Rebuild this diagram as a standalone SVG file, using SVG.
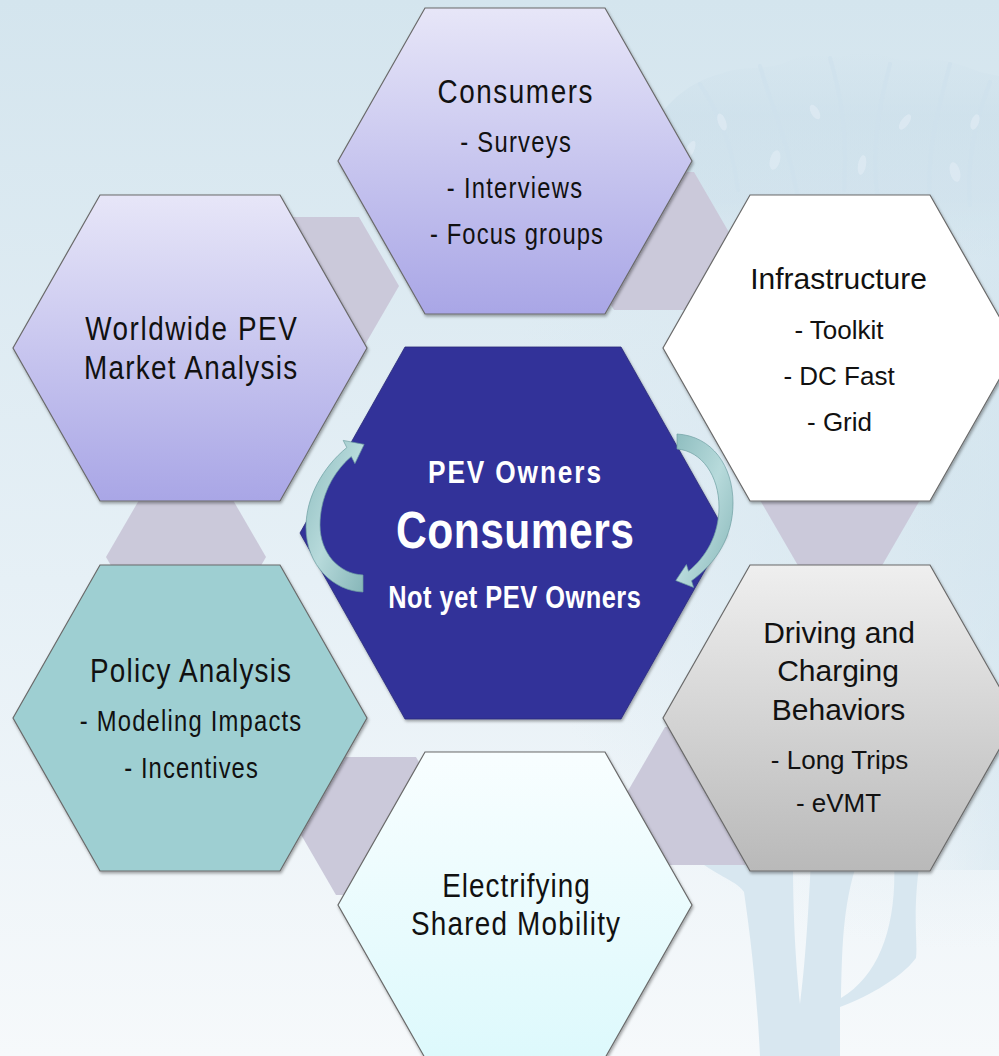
<svg xmlns="http://www.w3.org/2000/svg" width="999" height="1056" viewBox="0 0 999 1056">
  <defs>
    <linearGradient id="bg" x1="0" y1="0" x2="0" y2="1">
      <stop offset="0" stop-color="#d4e5ee"/>
      <stop offset="0.55" stop-color="#e6f0f6"/>
      <stop offset="1" stop-color="#f6f9fb"/>
    </linearGradient>
    <radialGradient id="bgRight" cx="0.95" cy="0.45" r="0.45">
      <stop offset="0" stop-color="#d6e6ef" stop-opacity="0.9"/>
      <stop offset="1" stop-color="#d6e6ef" stop-opacity="0"/>
    </radialGradient>
    <linearGradient id="canopy" x1="0" y1="0" x2="0" y2="1">
      <stop offset="0" stop-color="#c9dde9" stop-opacity="0"/>
      <stop offset="0.3" stop-color="#c9dde9" stop-opacity="0.55"/>
      <stop offset="0.7" stop-color="#c9dde9" stop-opacity="0.45"/>
      <stop offset="1" stop-color="#c9dde9" stop-opacity="0"/>
    </linearGradient>
    <linearGradient id="edgeTint" x1="0" y1="0" x2="1" y2="0">
      <stop offset="0" stop-color="#d2e4ee" stop-opacity="0"/>
      <stop offset="1" stop-color="#d2e4ee" stop-opacity="0.45"/>
    </linearGradient>
    <linearGradient id="lavender" x1="0" y1="0" x2="0" y2="1">
      <stop offset="0" stop-color="#e7e6f8"/>
      <stop offset="1" stop-color="#a9a6e6"/>
    </linearGradient>
    <linearGradient id="silver" x1="0" y1="0" x2="0" y2="1">
      <stop offset="0" stop-color="#efefef"/>
      <stop offset="1" stop-color="#b9b9b9"/>
    </linearGradient>
    <linearGradient id="ice" x1="0" y1="0" x2="0" y2="1">
      <stop offset="0" stop-color="#f8feff"/>
      <stop offset="1" stop-color="#ddf9fc"/>
    </linearGradient>
    <linearGradient id="arrowFill" x1="0" y1="0" x2="1" y2="1">
      <stop offset="0" stop-color="#8ebdbf"/>
      <stop offset="0.5" stop-color="#b7dadb"/>
      <stop offset="1" stop-color="#86b6b8"/>
    </linearGradient>
    <filter id="shadow" x="-10%" y="-10%" width="120%" height="125%">
      <feDropShadow dx="1" dy="2" stdDeviation="1.6" flood-color="#000" flood-opacity="0.35"/>
    </filter>
    <style>
      .hex { stroke: #6a6a6a; stroke-width: 1.2; filter: url(#shadow); }
      .link { fill: #cbc9da; }
      .arrow { fill: url(#arrowFill); stroke: #6f9fa2; stroke-width: 0.7; }
      .twig { fill: none; stroke: #cfe1ec; stroke-linecap: round; stroke-linejoin: round; opacity: 0.7; }
      .leaf { fill: #dfebf3; opacity: 0.7; }
      .nar { font-family: "Liberation Sans", Arial, sans-serif; fill: #111; text-anchor: middle; }
      .reg { font-family: "Liberation Sans", Arial, sans-serif; fill: #111; text-anchor: middle; }
      .hd { font-size: 34px; }
      .it { font-size: 29px; }
      .rhd { font-size: 30px; }
      .rit { font-size: 26px; }
      .ctr { font-family: "Liberation Sans", Arial, sans-serif; fill: #ffffff; font-weight: bold; text-anchor: middle; }
    </style>
  </defs>

  <!-- backdrop -->
  <rect width="999" height="1056" fill="url(#bg)"/>
  <rect width="999" height="1056" fill="url(#bgRight)"/>

  <!-- faint tree: canopy at top right, trunk at bottom right -->
  <g id="tree">
    <path fill="url(#canopy)" d="M650,130 C668,100 690,82 720,74 C745,64 770,72 790,60 C815,50 835,62 850,54 C875,46 895,64 915,60 C940,57 960,64 980,72 L999,76 L999,260 C960,250 930,262 900,250 C860,240 820,258 780,246 C740,236 700,250 650,240 Z"/>
    <path class="twig" stroke-width="4" d="M700,84 C718,112 732,142 738,190 M760,66 C770,102 788,140 798,198 M830,58 C840,92 848,130 844,190 M890,64 C880,102 870,150 878,200 M950,64 C940,102 926,150 930,200 M990,82 C976,120 966,160 970,205"/>
    <ellipse class="leaf" cx="690" cy="150" rx="4" ry="10" transform="rotate(25 690 150)"/>
    <ellipse class="leaf" cx="722" cy="122" rx="4" ry="9" transform="rotate(-20 722 122)"/>
    <ellipse class="leaf" cx="775" cy="160" rx="5" ry="10" transform="rotate(15 775 160)"/>
    <ellipse class="leaf" cx="815" cy="112" rx="4" ry="8" transform="rotate(-30 815 112)"/>
    <ellipse class="leaf" cx="862" cy="165" rx="4" ry="10" transform="rotate(10 862 165)"/>
    <ellipse class="leaf" cx="905" cy="122" rx="4" ry="9" transform="rotate(35 905 122)"/>
    <ellipse class="leaf" cx="955" cy="172" rx="5" ry="10" transform="rotate(-15 955 172)"/>
    <ellipse class="leaf" cx="975" cy="122" rx="4" ry="8" transform="rotate(20 975 122)"/>
    <rect x="900" y="200" width="99" height="670" fill="url(#edgeTint)"/>
    <path fill="#d8e7f0" d="M697,860 L793,860 C793,920 796,965 800,1004 C805,965 808,920 811,860 L858,860 C842,905 842,955 841,998 C880,975 897,925 894,860 L920,860 C912,915 918,940 916,958 C900,980 860,1000 840,1007 L840,1056 L760,1056 C756,975 748,920 744,892 C738,882 718,876 697,860 Z"/>
  </g>

  <!-- small linking hexagons between neighbouring outer cells -->
  <g id="connectors">
    <polygon class="link" points="279,217 359,217 399,286 359,355 279,355 239,286"/>
    <polygon class="link" points="614,172 694,172 734,241 694,310 614,310 574,241"/>
    <polygon class="link" points="800,431 880,431 920,500 880,569 800,569 760,500"/>
    <polygon class="link" points="665,727 745,727 785,796 745,865 665,865 625,796"/>
    <polygon class="link" points="336,757 416,757 456,826 416,895 336,895 296,826"/>
    <polygon class="link" points="146,488 226,488 266,557 226,626 146,626 106,557"/>
  </g>

  <!-- outer cells; condensed labels are Liberation Sans squeezed horizontally -->
  <g id="node-consumers">
    <polygon class="hex" fill="url(#lavender)" points="425,8 605,8 692,161 605,314 425,314 338,161"/>
    <text class="nar hd" transform="translate(515 103) scale(0.82 1)" textLength="189" lengthAdjust="spacing">Consumers</text>
    <text class="nar it" transform="translate(515.5 152) scale(0.82 1)" textLength="135" lengthAdjust="spacing">- Surveys</text>
    <text class="nar it" transform="translate(514.5 198) scale(0.82 1)" textLength="165" lengthAdjust="spacing">- Interviews</text>
    <text class="nar it" transform="translate(516.5 244) scale(0.82 1)" textLength="211" lengthAdjust="spacing">- Focus groups</text>
  </g>

  <g id="node-market">
    <polygon class="hex" fill="url(#lavender)" points="100,195 280,195 367,348 280,501 100,501 13,348"/>
    <text class="nar hd" transform="translate(191 340) scale(0.82 1)" textLength="258" lengthAdjust="spacing">Worldwide PEV</text>
    <text class="nar hd" transform="translate(190.5 379) scale(0.82 1)" textLength="260" lengthAdjust="spacing">Market Analysis</text>
  </g>

  <g id="node-infrastructure">
    <polygon class="hex" fill="#ffffff" points="750,195 930,195 1017,348 930,501 750,501 663,348"/>
    <text class="reg rhd" x="838.5" y="289">Infrastructure</text>
    <text class="reg rit" x="839" y="339">- Toolkit</text>
    <text class="reg rit" x="839" y="385">- DC Fast</text>
    <text class="reg rit" x="839.5" y="431">- Grid</text>
  </g>

  <g id="node-policy">
    <polygon class="hex" fill="#9ecfd2" points="100,565 280,565 367,718 280,871 100,871 13,718"/>
    <text class="nar hd" transform="translate(190.5 682) scale(0.82 1)" textLength="245" lengthAdjust="spacing">Policy Analysis</text>
    <text class="nar it" transform="translate(190.5 731) scale(0.82 1)" textLength="270" lengthAdjust="spacing">- Modeling Impacts</text>
    <text class="nar it" transform="translate(191 778) scale(0.82 1)" textLength="163" lengthAdjust="spacing">- Incentives</text>
  </g>

  <g id="node-driving">
    <polygon class="hex" fill="url(#silver)" points="750,565 930,565 1017,718 930,871 750,871 663,718"/>
    <text class="reg rhd" x="839" y="643">Driving and</text>
    <text class="reg rhd" x="838" y="681">Charging</text>
    <text class="reg rhd" x="838.5" y="720">Behaviors</text>
    <text class="reg rit" x="839.5" y="769">- Long Trips</text>
    <text class="reg rit" x="838.5" y="812">- eVMT</text>
  </g>

  <g id="node-shared-mobility">
    <polygon class="hex" fill="url(#ice)" points="425,752 605,752 692,905 605,1058 425,1058 338,905"/>
    <text class="nar hd" transform="translate(516 897) scale(0.82 1)" textLength="180" lengthAdjust="spacing">Electrifying</text>
    <text class="nar hd" transform="translate(515.5 935) scale(0.82 1)" textLength="255" lengthAdjust="spacing">Shared Mobility</text>
  </g>

  <!-- hub -->
  <g id="node-hub">
    <polygon fill="#333399" stroke="#2a2a7a" stroke-width="0.8" filter="url(#shadow)" points="405,347 621,347 726,533 621,719 405,719 300,533"/>
    <text class="ctr" font-size="32" transform="translate(514.5 483) scale(0.82 1)" textLength="211" lengthAdjust="spacing">PEV Owners</text>
    <text class="ctr" font-size="52" transform="translate(515 548) scale(0.82 1)" textLength="290" lengthAdjust="spacing">Consumers</text>
    <text class="ctr" font-size="31" transform="translate(514.5 608) scale(0.82 1)" textLength="308" lengthAdjust="spacing">Not yet PEV Owners</text>
  </g>

  <!-- cycle arrows around the hub -->
  <g id="cycle">
    <path class="arrow" d="M363,592 C334,591 306,566 306,527 C306,497 323,467 346.8,447.6 L343.2,440.4 L364.1,444.4 L354.9,463.6 L351.3,456.5 C333,472 320,497 320,525 C320,553 339,574 363,575 Z"/>
    <path class="arrow" d="M677,434 C712,436 733,466 733,503 C733,537 716,563 691.5,580.8 L693.6,587.4 L675.8,580.5 L686.4,564.6 L688.5,571.2 C706,557 719,535 719,507 C719,476 702,451 677,449 Z"/>
  </g>
</svg>
